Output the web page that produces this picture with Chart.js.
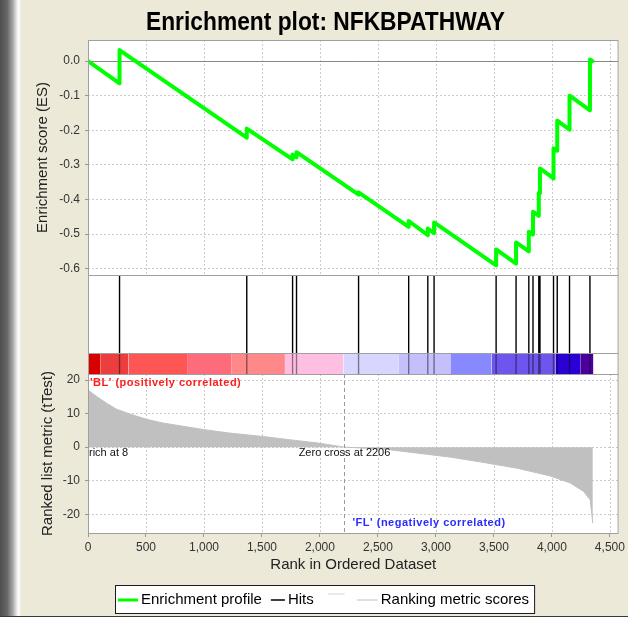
<!DOCTYPE html>
<html>
<head>
<meta charset="utf-8">
<title>Enrichment plot: NFKBPATHWAY</title>
<script src="https://cdn.jsdelivr.net/npm/chart.js@4.4.0/dist/chart.umd.min.js"></script>
<style>
body { margin: 0; }
#gsea_box {
	position: relative; width: 628px; height: 617px; overflow: hidden;
	background: linear-gradient(to top, #3a3a3a 0px, #3a3a3a 1px, rgba(0,0,0,0) 1px),
		linear-gradient(to right, #4e4e4e 0px, #666666 7px, #a8a8a8 13px, #eeeeee 17px, #ffffff 19px, #ece9d8 21px);
}
#gsea_plot { position: absolute; left: 0; top: 0; }
</style>
</head>
<body>
<div id="gsea_box"><canvas id="gsea_plot" width="628" height="617"></canvas></div>
<script>
var gsea_title = 'Enrichment plot: NFKBPATHWAY';

//running enrichment score, corners of the profile
var es_ranks = [0, 272, 272, 1369, 1369, 1764, 1764, 1798, 1798, 2333, 2333, 2765, 2765, 2930, 2930, 2984, 2984,
	3519, 3519, 3691, 3691, 3801, 3801, 3837, 3837, 3887, 3887, 3897, 3897, 4014, 4014, 4046, 4046, 4152, 4152, 4328, 4328, 4350];
var es_values = [0, -0.064, 0.032, -0.221, -0.195, -0.284, -0.270, -0.278, -0.263, -0.386, -0.379, -0.479, -0.462, -0.503, -0.484, -0.497, -0.466,
	-0.590, -0.544, -0.585, -0.524, -0.550, -0.493, -0.501, -0.435, -0.447, -0.380, -0.382, -0.310, -0.339, -0.252, -0.259, -0.172, -0.198, -0.100, -0.142, 0.005, 0.0];

//gene set members in the ranked list
var hit_ranks = [272, 1369, 1764, 1798, 2333, 2765, 2930, 2984, 3519, 3691, 3801, 3837, 3887, 3897, 4014, 4046, 4152, 4328];

//ranked list metric (tTest)
var metric_ranks = [0, 75, 160, 246, 360, 503, 645, 859, 1003, 1217, 1502, 1788, 1988, 2211, 2560, 2845, 3130, 3416, 3702, 3987, 4159, 4273, 4330, 4353];
var metric_values = [17.0, 15.1, 13.1, 11.3, 9.9, 8.3, 7.2, 6.0, 5.2, 4.2, 3.2, 2.0, 1.2, 0.0, -0.6, -1.8, -3.0, -4.6, -6.3, -8.6, -10.7, -13.2, -15.7, -22.7];

//heat bar under the hits
var bar_edges = [0, 105, 350, 854, 1234, 1698, 2202, 2681, 3130, 3481, 4034, 4244, 4358];
var bar_colors = ['#d90000', '#ec3e3e', '#fe5555', '#fe6b7a', '#ff8888', '#ffbfe3', '#d6d6ff', '#c4c0fb', '#8888ff', '#6e55ee', '#2a00d4', '#4b009e'];

var x_ticks = [0, 500, 1000, 1500, 2000, 2500, 3000, 3500, 4000, 4500];
var es_ticks = [-0.6, -0.5, -0.4, -0.3, -0.2, -0.1, 0.0];
var metric_ticks = [-20, -10, 0, 10, 20];
var x_max = 4575;
var es_min = -0.618, es_max = 0.061;
var metric_min = -25.6, metric_max = 21.8;

var zero_cross = 2206;
var peak_rank = 8;
var pos_label = "'BL' (positively correlated)";
var neg_label = "'FL' (negatively correlated)";

var legend_labels = ['Enrichment profile', 'Hits', '', 'Ranking metric scores'];
var legend_colors = ['#00ff00', '#000000', '#d4d4d4', '#c0c0c0'];

var gsea_font = '"Liberation Sans", Arial, sans-serif';
var gsea_grid_color = '#cbcbcb';
Chart.defaults.font.family = gsea_font;

function gsea_points(xs, ys)
{
	var out = [];
	for(var i = 0; i < xs.length; i++)
		out.push({x: xs[i], y: ys[i]});
	return out;
}
function gsea_hit_points()
{
	var out = [];
	for(var i = 0; i < hit_ranks.length; i++)
	{
		out.push({x: hit_ranks[i], y: 0});
		out.push({x: hit_ranks[i], y: 1});
		out.push({x: hit_ranks[i], y: null});
	}
	return out;
}
function gsea_set_ticks(list)
{
	return function(scale) { scale.ticks = list.map(function(v){ return {value: v}; }); };
}

var gsea_datasets = [];
gsea_datasets.push({label: 'Enrichment profile', data: gsea_points(es_ranks, es_values), yAxisID: 'yES', order: 0,
	borderColor: '#00ff00', borderWidth: 4, borderJoinStyle: 'round', borderCapStyle: 'round', pointRadius: 0, fill: false});
gsea_datasets.push({label: 'Hits', data: gsea_hit_points(), yAxisID: 'yHits', order: 1,
	borderColor: '#000000', borderWidth: 1.4, pointRadius: 0, spanGaps: false, fill: false});
gsea_datasets.push({label: 'Hits bar', data: gsea_hit_points(), yAxisID: 'yBar', order: 1,
	borderColor: 'rgba(0,0,0,0.45)', borderWidth: 1.4, pointRadius: 0, spanGaps: false, fill: false});
for(var b = 0; b < bar_colors.length; b++)
{
	gsea_datasets.push({label: 'bar' + b, data: [{x: bar_edges[b], y: 1}, {x: bar_edges[b + 1], y: 1}], yAxisID: 'yBar', order: 2,
		borderWidth: 0, borderColor: bar_colors[b], backgroundColor: bar_colors[b], pointRadius: 0, fill: 'origin'});
}
gsea_datasets.push({label: 'Ranking metric scores', data: gsea_points(metric_ranks, metric_values), yAxisID: 'yMetric', order: 3,
	borderColor: '#c0c0c0', borderWidth: 1, backgroundColor: '#c0c0c0', pointRadius: 0, fill: 'origin'});

//panels, grid, labels
var gsea_panels = {
	id: 'gsea_panels',
	beforeDraw: function(chart)
	{
		var ctx = chart.ctx, a = chart.chartArea;
		ctx.save();
		ctx.fillStyle = '#ffffff';
		ctx.fillRect(a.left, a.top, a.right - a.left, a.bottom - a.top);
		ctx.restore();
	},
	beforeDatasetsDraw: function(chart)
	{
		var ctx = chart.ctx, a = chart.chartArea, x = chart.scales.x;
		ctx.save();
		ctx.strokeStyle = gsea_grid_color;
		ctx.lineWidth = 1;
		ctx.setLineDash([2, 2]);
		['yES', 'yMetric'].forEach(function(id)
		{
			var s = chart.scales[id];
			x_ticks.forEach(function(v)
			{
				if(v == 0) return;
				var px = Math.round(x.getPixelForValue(v)) + 0.5;
				ctx.beginPath(); ctx.moveTo(px, s.top); ctx.lineTo(px, s.bottom); ctx.stroke();
			});
		});
		ctx.setLineDash([]);
		ctx.strokeStyle = '#888888';
		var zy = Math.round(chart.scales.yES.getPixelForValue(0)) + 0.5;
		ctx.beginPath(); ctx.moveTo(a.left, zy); ctx.lineTo(a.right, zy); ctx.stroke();
		ctx.restore();
	},
	afterDatasetsDraw: function(chart)
	{
		var ctx = chart.ctx, a = chart.chartArea, x = chart.scales.x, ym = chart.scales.yMetric;
		var zx = Math.round(x.getPixelForValue(zero_cross)) + 0.5;
		var zy = ym.getPixelForValue(0);
		ctx.save();
		ctx.strokeStyle = '#999999';
		ctx.setLineDash([4, 3]);
		ctx.beginPath(); ctx.moveTo(zx, ym.top); ctx.lineTo(zx, ym.bottom); ctx.stroke();
		ctx.setLineDash([]);

		ctx.strokeStyle = '#a0a0a0';
		['yES', 'yHits', 'yBar', 'yMetric'].forEach(function(id)
		{
			var s = chart.scales[id];
			ctx.strokeRect(a.left + 0.5, Math.round(s.top) + 0.5, a.right - a.left - 1, Math.round(s.bottom - s.top));
		});

		ctx.textBaseline = 'middle';
		ctx.font = '11px ' + gsea_font;
		ctx.fillStyle = '#111111';
		ctx.textAlign = 'center';
		ctx.fillText('Zero cross at ' + zero_cross, zx, zy + 6);
		ctx.textAlign = 'left';
		ctx.fillText('rich at ' + peak_rank, a.left + 1, zy + 6);
		ctx.font = 'bold 11px ' + gsea_font;
		ctx.letterSpacing = '0.5px';
		ctx.fillStyle = '#ff1e1e';
		ctx.fillText(pos_label, a.left + 2, ym.top + 9);
		ctx.fillStyle = '#2b2bff';
		ctx.fillText(neg_label, zx + 8, ym.bottom - 10);
		ctx.restore();
	},
	afterDraw: function(chart)
	{
		var ctx = chart.ctx;
		ctx.save();
		//title
		ctx.font = 'bold 25px ' + gsea_font;
		var w = ctx.measureText(gsea_title).width;
		ctx.translate(325.5, 30);
		ctx.scale(359 / w, 1);
		ctx.fillStyle = '#000000';
		ctx.textAlign = 'center';
		ctx.textBaseline = 'alphabetic';
		ctx.fillText(gsea_title, 0, 0);
		ctx.restore();

		//legend
		ctx.save();
		ctx.font = '15px ' + gsea_font;
		ctx.textBaseline = 'middle';
		ctx.textAlign = 'left';
		var line_len = [20, 14, 17, 21];
		var item_gap = [9, 14, 12, 0];
		var lx = 118, ly = 600;
		var items = [];
		for(var i = 0; i < legend_labels.length; i++)
		{
			items.push({x: lx, len: line_len[i], label: legend_labels[i], color: legend_colors[i]});
			lx += line_len[i];
			if(legend_labels[i] != '')
				lx += 3 + ctx.measureText(legend_labels[i]).width;
			lx += item_gap[i];
		}
		var box_right = lx + 5;
		ctx.fillStyle = '#ffffff';
		ctx.fillRect(115, 586, box_right - 115, 28);
		ctx.strokeStyle = '#1a1a1a';
		ctx.lineWidth = 1;
		ctx.strokeRect(115.5, 585.5, box_right - 115, 28);
		items.forEach(function(it, i)
		{
			var y = it.label == '' ? ly - 6 : ly;
			ctx.strokeStyle = it.color;
			ctx.lineWidth = i == 0 ? 3 : (i == 1 ? 1.5 : 1);
			ctx.beginPath(); ctx.moveTo(it.x, y); ctx.lineTo(it.x + it.len, y); ctx.stroke();
			if(it.label != '')
			{
				ctx.fillStyle = '#000000';
				ctx.fillText(it.label, it.x + it.len + 3, ly);
			}
		});
		ctx.restore();
	}
};

var gsea_y_common = {type: 'linear', position: 'left', stack: 'gsea', offset: false};

var gsea_chart = new Chart(document.getElementById('gsea_plot').getContext('2d'), {
	type: 'line',
	data: {datasets: gsea_datasets},
	options: {
		responsive: false,
		animation: false,
		devicePixelRatio: 1,
		events: [],
		layout: {padding: {top: 40, left: 0, right: 6, bottom: 40}},
		plugins: {legend: {display: false}, tooltip: {enabled: false}, title: {display: false}},
		scales: {
			x: {
				type: 'linear', min: 0, max: x_max,
				afterBuildTicks: gsea_set_ticks(x_ticks),
				ticks: {autoSkip: false, maxRotation: 0, padding: 3, color: '#333333', font: {size: 12},
					callback: function(v) { return Number(v).toLocaleString('en-US'); }},
				grid: {drawOnChartArea: false, drawTicks: true, tickLength: 4, color: '#999999'},
				border: {display: false},
				title: {display: true, text: 'Rank in Ordered Dataset', color: '#222222', font: {size: 15}, padding: {top: 2, bottom: 3}},
				afterFit: function(s) { s.height = 44; }
			},
			yES: Object.assign({}, gsea_y_common, {
				weight: 4, stackWeight: 235, min: es_min, max: es_max,
				afterBuildTicks: gsea_set_ticks(es_ticks),
				ticks: {padding: 5, color: '#333333', font: {size: 12}, callback: function(v) { return Number(v).toFixed(1); }},
				grid: {color: gsea_grid_color, tickColor: '#999999', tickLength: 3, tickBorderDash: []},
				border: {display: false, dash: [2, 2]},
				title: {display: true, text: 'Enrichment score (ES)', color: '#222222', font: {size: 15}, padding: {top: 34, bottom: 0}},
				afterFit: function(s) { s.width = 88; }
			}),
			yHits: Object.assign({}, gsea_y_common, {weight: 3, stackWeight: 78, min: 0, max: 1, display: false}),
			yBar: Object.assign({}, gsea_y_common, {weight: 2, stackWeight: 21, min: 0, max: 1, display: false}),
			yMetric: Object.assign({}, gsea_y_common, {
				weight: 1, stackWeight: 159, min: metric_min, max: metric_max,
				afterBuildTicks: gsea_set_ticks(metric_ticks),
				ticks: {padding: 5, color: '#333333', font: {size: 12}},
				grid: {color: gsea_grid_color, tickColor: '#999999', tickLength: 3, tickBorderDash: []},
				border: {display: false, dash: [2, 2]},
				title: {display: true, text: 'Ranked list metric (tTest)', color: '#222222', font: {size: 15}, padding: {top: 39, bottom: 0}},
				afterFit: function(s) { s.width = 88; }
			})
		}
	},
	plugins: [gsea_panels]
});
</script>
</body>
</html>
